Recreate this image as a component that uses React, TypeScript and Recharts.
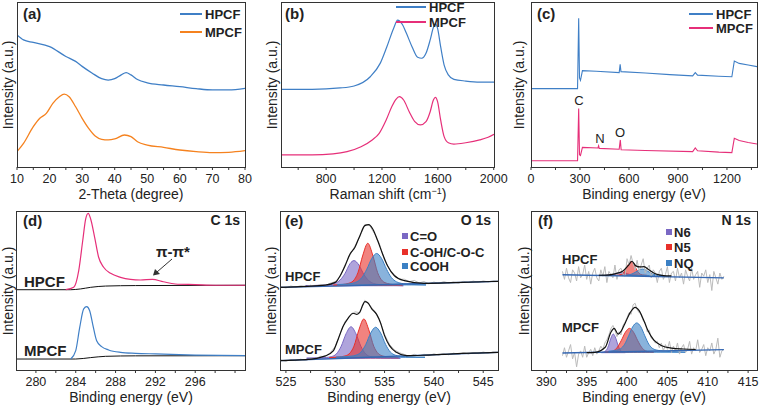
import React from "react";
import { ComposedChart, Line, Area, XAxis, YAxis } from "recharts";

const FONT = "'Liberation Sans', Arial, Helvetica, sans-serif";
const INK = "#222222";
const AXIS = "#333333";
const BLUE = "#3f7fc6";
const ORANGE = "#f5821f";
const PINK = "#e62f79";
const GRAY = "#bbbbbb";
const BASE_BLUE = "#3567b2";
const PURPLE = "#7a68c4";
const RED = "#e8302a";
const CYAN = "#3b80c4";

// (a) XRD
const aHX = [10, 12, 15, 20, 25, 28, 30, 33, 36, 38, 40, 42, 43.5, 45, 47, 50, 55, 60, 65, 70, 75, 80];
const aHPCF = [80, 77, 75.5, 73, 67, 64, 61, 57, 53.5, 52.7, 53.5, 55.8, 57.2, 55.8, 53, 51, 49.7, 48.7, 47.5, 46.7, 46.7, 47.7];
const aMX = [10, 12, 15, 17, 19, 21, 23, 24.5, 26, 28, 30, 32, 34, 36, 38, 40, 43, 45, 47, 50, 55, 60, 65, 70, 75, 80];
const aMPCF = [9.3, 14.3, 24.4, 29.5, 32.5, 38.6, 42.6, 44.2, 42.6, 36.5, 29.5, 23.4, 18.8, 16.8, 16.4, 17, 19.4, 18.4, 15.3, 13.3, 11.9, 10.3, 9.3, 8.7, 8.9, 9.9];
const aTicks = [10, 15, 20, 25, 30, 35, 40, 45, 50, 55, 60, 65, 70, 75, 80];
const aMajors = [10, 20, 30, 40, 50, 60, 70, 80];

// (b) Raman
const bHX = [477, 700, 900, 1000, 1116, 1187, 1235, 1283, 1312, 1345, 1375, 1415, 1455, 1485, 1515, 1545, 1568, 1583, 1598, 1620, 1645, 1675, 1715, 1800, 1900, 2002];
const bHPCF = [47.1, 47.1, 47.9, 49.1, 54.7, 62.8, 72.9, 84, 89, 86.5, 81, 72.9, 66.5, 65.9, 68.9, 77, 84.5, 86.7, 84, 72.9, 61.8, 55.8, 53.1, 52.1, 51.5, 51.5];
const bMX = [477, 700, 850, 950, 1050, 1130, 1180, 1230, 1270, 1300, 1325, 1355, 1395, 1435, 1475, 1515, 1545, 1568, 1583, 1598, 1620, 1645, 1675, 1715, 1800, 1900, 1960, 2002];
const bMPCF = [7.3, 7.3, 7.9, 9.3, 12.3, 16.4, 20.4, 28.5, 36.5, 41, 42.6, 40.6, 33.5, 27.5, 25.5, 27.5, 33.5, 40.6, 42.2, 39.6, 28.5, 18.4, 14.7, 13.9, 14.7, 16.4, 18, 19.8];
const bTicks = [600, 800, 1000, 1200, 1400, 1600, 1800, 2000];
const bMajors = [800, 1200, 1600, 2000];

// (c) XPS survey
const cHX = [0, 285, 292, 297, 303, 315, 400, 540, 546, 551, 700, 850, 990, 1006, 1020, 1150, 1230, 1245, 1275, 1330, 1384];
const cHPCF = [47.5, 47.5, 90.1, 54, 52.5, 58.4, 58.0, 57.2, 62.2, 57.8, 57.0, 56, 55.2, 57.2, 55.7, 55.0, 54.7, 64.2, 62.8, 61.8, 60.8];
const cMX = [0, 285, 292, 297, 303, 315, 410, 414, 418, 540, 547, 552, 700, 990, 1006, 1020, 1150, 1230, 1245, 1275, 1330, 1384];
const cMPCF = [3.8, 3.8, 35.5, 7.5, 7.0, 11.9, 11.5, 12.8, 11.3, 10.8, 16.4, 10.5, 10.0, 9.3, 11.5, 9.8, 9.0, 8.7, 17.4, 16.0, 14.8, 13.9];
const cTicks = [0, 150, 300, 450, 600, 750, 900, 1050, 1200, 1350];
const cMajors = [0, 300, 600, 900, 1200];

// (d) C 1s
const dHX = [283, 283.8, 284.3, 284.7, 285.0, 285.25, 285.5, 285.9, 286.3, 286.8, 287.5, 288.5, 289.5, 290.5, 291.7, 292.8, 294, 296, 298, 301];
const dHPCF = [50.5, 52, 62.5, 81.3, 95, 98.5, 95, 83.4, 70.9, 64.6, 60.8, 58.3, 57, 56.6, 57.0, 55.5, 54.1, 53.7, 53.3, 53.3];
const dHBgX = [278, 283.5, 284.5, 285.5, 287, 290, 301];
const dHBg = [50.5, 50.5, 51, 52, 52.8, 53.1, 53.3];
const dMX = [283.5, 284.0, 284.4, 284.8, 285.1, 285.4, 285.7, 286.1, 286.6, 287.3, 288.5, 290, 292, 296, 301];
const dMPCF = [6.9, 12.2, 26.8, 38.4, 39.8, 37.3, 28.9, 18.4, 14.7, 12.6, 11.1, 10.5, 10.1, 9.4, 9];
const dMBgX = [278, 284, 285.5, 287, 290, 301];
const dMBg = [6.9, 6.9, 7.8, 8.6, 8.9, 9.0];
const dTicks = [280, 282, 284, 286, 288, 290, 292, 294, 296, 298, 300];
const dMajors = [280, 284, 288, 292, 296];

// (e) O 1s
const eRawStart = 524.5;
const eRawStep = 0.5;
const eHRaw = [52.3, 51.6, 52.8, 52.1, 53.0, 52.2, 53.3, 52.6, 53.8, 53.1, 54.6, 55.6, 58.8, 66.3, 72.4, 77.9, 84.0, 91.5, 90.8, 85.6, 78.9, 69.2, 63.4, 59.9, 57.0, 57.1, 55.5, 56.3, 54.8, 55.6, 54.2, 55.3, 54.5, 55.6, 54.7, 55.4, 54.6, 55.7, 55.0, 55.9, 55.1, 56.0, 55.4, 56.1, 55.6];
const eMRaw = [6.3, 5.4, 6.6, 5.9, 6.8, 6.0, 7.2, 7.0, 8.6, 8.4, 10.9, 14.8, 23.0, 30.5, 34.0, 36.6, 36.0, 43.8, 40.8, 36.8, 31.6, 22.4, 16.1, 12.6, 10.9, 9.8, 8.7, 9.9, 8.8, 9.9, 9.0, 10.2, 9.3, 10.4, 9.6, 10.6, 9.8, 10.9, 10.1, 11.0, 10.3, 11.3, 10.6, 11.4, 10.9];
const eBgX = [524.4, 531, 537, 546.5];
const eHBg = [52.0, 52.9, 54.1, 55.8];
const eMBg = [5.9, 7.4, 8.9, 11.1];
const eHCOX = [527, 528, 529, 529.5, 530, 530.5, 531, 531.5, 531.9, 532.4, 532.9, 533.4, 533.9, 534.4, 534.9, 535.9, 536.9];
const eHCO = [53.0, 53.2, 53.5, 53.8, 54.6, 56.6, 60.8, 66.9, 68.8, 66.0, 60.1, 56.2, 54.4, 53.8, 53.5, 53.2, 53.0];
const eHCOHX = [529.8, 530.3, 530.8, 531.3, 531.8, 532.3, 532.8, 533.3, 533.8, 534.3, 534.8, 535.3, 535.8, 536.3, 536.8];
const eHCOH = [53.4, 53.6, 53.8, 54.4, 55.9, 61.2, 72.3, 79.7, 72.3, 61.2, 55.9, 54.4, 53.8, 53.6, 53.4];
const eHCOOHX = [530.2, 530.7, 531.2, 531.7, 532.2, 532.7, 533.2, 533.7, 534.2, 534.7, 535.2, 535.7, 536.2, 536.7, 537.2, 537.7, 538.2, 539.2];
const eHCOOH = [53.7, 53.9, 54.1, 54.5, 55.5, 58.1, 63.4, 70.1, 73.3, 70.1, 63.4, 58.1, 55.5, 54.5, 54.1, 53.9, 53.7, 53.5];
const eHFitX = [524.4, 527, 529, 530, 530.5, 531, 531.5, 532, 532.5, 533, 533.4, 533.8, 534.3, 534.8, 535.3, 536, 537, 539, 542, 546.5];
const eHFit = [52.0, 52.6, 53.4, 55.1, 59.3, 65.6, 73, 77.2, 84.5, 90.8, 91.4, 88.7, 81.4, 73, 65.6, 59.3, 56.2, 54.5, 54.9, 55.8];
const eMCOX = [527.1, 528.1, 528.6, 529.1, 529.6, 530.1, 530.6, 531.1, 531.6, 532.1, 532.6, 533.1, 533.6, 534.1, 534.6, 535.6, 536.6];
const eMCO = [7.4, 7.6, 7.7, 7.9, 8.4, 10.0, 14.9, 22.8, 27.2, 22.8, 14.9, 10.0, 8.4, 7.9, 7.7, 7.5, 7.4];
const eMCOHX = [529.4, 529.9, 530.4, 530.9, 531.4, 531.9, 532.4, 532.9, 533.4, 533.9, 534.4, 534.9, 535.4, 535.9, 536.4];
const eMCOH = [7.8, 8.0, 8.2, 8.7, 10.1, 15.0, 25.3, 32.1, 25.3, 15.0, 10.1, 8.7, 8.2, 8.0, 7.8];
const eMCOOHX = [530.1, 531.1, 531.6, 532.1, 532.6, 533.1, 533.6, 534.1, 534.6, 535.1, 535.6, 536.1, 536.6, 537.1, 538.1, 539.1];
const eMCOOH = [8.1, 8.4, 8.7, 9.3, 11.2, 16.1, 23.3, 26.9, 23.3, 16.1, 11.2, 9.3, 8.7, 8.4, 8.1, 8.0];
const eMFitX = [524.4, 527, 529, 529.8, 530.3, 530.8, 531.3, 531.8, 532.2, 532.5, 532.8, 533.0, 533.3, 533.7, 534.2, 534.6, 535.0, 535.5, 536.2, 537.2, 539.3, 542, 546.5];
const eMFit = [5.9, 6.5, 8.9, 12.0, 19.4, 27.5, 32.5, 35.7, 35.0, 36.5, 41.0, 43.0, 42.3, 38.5, 35.0, 29.5, 21.6, 15.3, 11.1, 9.0, 9.4, 10.2, 11.1];
const eTicks = [525, 527.5, 530, 532.5, 535, 537.5, 540, 542.5, 545];
const eMajors = [525, 530, 535, 540, 545];

// (f) N 1s
const fRawStart = 392;
const fRawStep = 0.25;
const fHRaw = [62, 57, 64, 58, 55, 63, 61, 56, 65, 58, 60, 66, 57, 62, 54, 61, 64, 58, 56, 63, 59, 65, 55, 62, 60, 58, 66, 57, 63, 64, 60, 59, 70, 66, 72, 67, 63, 69, 62, 66, 70, 61, 64, 66, 58, 63, 61, 55, 62, 64, 57, 60, 65, 55, 61, 62, 56, 64, 58, 61, 54, 63, 59, 56, 64, 57, 60, 62, 52, 61, 59, 63, 55, 60, 50, 62, 58, 54, 61, 57, 59];
const fMRaw = [9, 14, 8, 12, 16, 7, 11, 2, 10, 12, 8, 15, 8, 11, 13, 9, 14, 10, 12, 15, 13, 17, 19, 22, 26, 28, 25, 21, 24, 22, 28, 30, 33, 36, 35, 41, 42, 38, 36, 35, 31, 30, 24, 25, 20, 19, 17, 18, 14, 17, 12, 16, 13, 18, 11, 15, 12, 17, 10, 14, 16, 11, 13, 18, 10, 14, 12, 19, 11, 13, 16, 9, 14, 12, 17, 10, 13, 20, 8, 12, 13];
const fBgX = [392, 412];
const fHBg = [59.9, 57.9];
const fMBg = [10.7, 12.8];
const fHN6X = [397.3, 397.8, 398.3, 398.8, 399.3, 399.8, 400.3, 400.8, 401.3];
const fHN6 = [59.6, 59.7, 60.1, 61.0, 61.4, 61.0, 60.1, 59.7, 59.6];
const fHN5X = [398.5, 398.9, 399.3, 399.7, 400.1, 400.5, 400.9, 401.3, 401.7, 402.1, 402.5];
const fHN5 = [59.5, 59.7, 60.1, 62.1, 65.9, 68.2, 65.9, 62.1, 60.1, 59.7, 59.5];
const fHNQX = [399.3, 399.9, 400.5, 401.0, 401.5, 401.9, 402.3, 402.8, 403.3, 403.9, 404.5];
const fHNQ = [59.5, 59.7, 60.2, 61.4, 62.9, 63.5, 62.9, 61.4, 60.2, 59.7, 59.5];
const fHFitX = [396.5, 397.5, 398.5, 399.5, 400.2, 400.6, 401.1, 401.6, 402.1, 402.7, 403.5, 404.5, 405.5];
const fHFit = [59.6, 59.7, 60.5, 62.3, 66.0, 68.4, 65.5, 64.8, 65.0, 63.0, 60.5, 59.4, 59.2];
const fMN6X = [396.8, 397.1, 397.4, 397.7, 398.0, 398.3, 398.6, 398.9, 399.2, 399.5, 399.8];
const fMN6 = [11.0, 11.3, 12.2, 15.2, 20.0, 22.6, 20.0, 15.2, 12.2, 11.3, 11.0];
const fMN5X = [397.3, 397.8, 398.3, 398.8, 399.3, 399.8, 400.3, 400.8, 401.3, 401.8, 402.3, 402.8, 403.3];
const fMN5 = [11.2, 11.4, 12.0, 14.3, 18.7, 23.8, 26.2, 23.8, 18.7, 14.3, 12.0, 11.4, 11.2];
const fMNQX = [397.7, 398.2, 398.7, 399.2, 399.7, 400.2, 400.7, 401.2, 401.7, 402.2, 402.7, 403.2, 403.7, 404.2, 405.2, 406.2, 407.2];
const fMNQ = [11.8, 12.1, 12.5, 13.4, 16.2, 21.5, 27.2, 29.6, 27.2, 21.5, 16.2, 13.4, 12.5, 12.1, 11.6, 11.4, 11.2];
const fMFitX = [395, 396, 397.3, 398.0, 398.4, 398.9, 399.3, 399.8, 400.4, 401.0, 401.5, 402.0, 402.6, 403.3, 404.3, 405.5, 407, 408.5];
const fMFit = [10.9, 11.1, 14.3, 23.7, 26.2, 22.6, 24.7, 29.9, 36.2, 39.4, 37.3, 32.1, 24.7, 18.9, 15.3, 13.8, 13.2, 12.9];
const fTicks = [390, 392.5, 395, 397.5, 400, 402.5, 405, 407.5, 410, 412.5, 415];
const fMajors = [390, 395, 400, 405, 410, 415];

type Pt = { x: number; y: number };
const zip = (xs: number[], ys: number[]): Pt[] => xs.map((x, i) => ({ x, y: ys[i] }));
const sampled = (x0: number, dx: number, ys: number[]): Pt[] => ys.map((y, i) => ({ x: x0 + i * dx, y }));
const band = (xs: number[], tops: number[], base: number) => xs.map((x, i) => ({ x, band: [base, tops[i]] }));

// tick mark + label drawn together so the mark hangs below the frame
const tickRenderer = (majors: number[], axisY: number) => (props: any) => {
  const { x, payload } = props;
  const major = majors.includes(payload.value);
  return (
    <g>
      <line x1={x} x2={x} y1={axisY} y2={axisY + 3} stroke={AXIS} strokeWidth={1} />
      {major && (
        <text x={x} y={axisY + 12} dy="0.35em" textAnchor="middle" fontSize={12.5} fontFamily={FONT} fill={INK}>
          {payload.value}
        </text>
      )}
    </g>
  );
};

function curve(key: string, data: Pt[], color: string, width = 1.2, type: any = "monotone") {
  return (
    <Line key={key} data={data} dataKey="y" type={type} stroke={color} strokeWidth={width}
      dot={false} activeDot={false} isAnimationActive={false} />
  );
}

function peak(key: string, data: any[], color: string) {
  return (
    <Area key={key} data={data} dataKey="band" type="monotone" stroke={color} strokeWidth={1}
      fill={color} fillOpacity={0.6} dot={false} activeDot={false} isAnimationActive={false} />
  );
}

const SIDE = 20;

function Panel({ frame, domain, ticks, majors, children }: any) {
  const [l, t, r, b] = frame;
  const w = r - l;
  const h = b - t;
  return (
    <div style={{ position: "absolute", left: l - SIDE, top: t - 1 }}>
      <ComposedChart width={w + 2 * SIDE} height={h + 41} margin={{ top: 1, right: SIDE, left: SIDE, bottom: 0 }}>
        <XAxis type="number" dataKey="x" domain={domain} ticks={ticks} interval={0} allowDataOverflow
          height={40} axisLine={false} tickLine={false} tick={tickRenderer(majors, 1 + h)} />
        <YAxis type="number" domain={[0, 100]} allowDataOverflow width={0} tick={false} tickLine={false}
          axisLine={false} />
        {children}
      </ComposedChart>
      <div style={{
        position: "absolute", left: SIDE, top: 1, width: w + 1, height: h + 1,
        border: `1px solid ${AXIS}`, boxSizing: "border-box", pointerEvents: "none",
      }} />
    </div>
  );
}

function Txt({ x, y, children, size = 13, bold = false, anchor = "middle", rotate = false }: any) {
  const tx = anchor === "start" ? "0" : anchor === "end" ? "-100%" : "-50%";
  return (
    <div style={{
      position: "absolute", left: x, top: y,
      transform: `translate(${tx}, -50%)${rotate ? " rotate(-90deg)" : ""}`,
      fontSize: size, fontWeight: bold ? 700 : 400, fontFamily: FONT, color: INK,
      whiteSpace: "nowrap", lineHeight: 1,
    }}>
      {children}
    </div>
  );
}

function LegLine({ x1, x2, y, color, label }: any) {
  return (
    <>
      <div style={{ position: "absolute", left: x1, top: y - 0.75, width: x2 - x1, height: 1.5, background: color }} />
      <Txt x={x2 + 3} y={y} anchor="start" bold>{label}</Txt>
    </>
  );
}

function LegBox({ x, y, color, label }: any) {
  return (
    <>
      <div style={{ position: "absolute", left: x - 3, top: y - 3, width: 6, height: 6, background: color }} />
      <Txt x={x + 5} y={y} anchor="start" bold>{label}</Txt>
    </>
  );
}

export default function App() {
  return (
    <div style={{ position: "absolute", left: 0, top: 0, width: 759, height: 408, background: "#fff", overflow: "hidden" }}>
      <Panel frame={[17, 2, 245, 167]} domain={[10, 80]} ticks={aTicks} majors={aMajors}>
        {curve("h", zip(aHX, aHPCF), BLUE, 1.3)}
        {curve("m", zip(aMX, aMPCF), ORANGE, 1.3)}
      </Panel>
      <Panel frame={[281, 2, 494, 167]} domain={[477, 2002]} ticks={bTicks} majors={bMajors}>
        {curve("h", zip(bHX, bHPCF), BLUE)}
        {curve("m", zip(bMX, bMPCF), PINK)}
      </Panel>
      <Panel frame={[531, 2, 757, 167]} domain={[0, 1384]} ticks={cTicks} majors={cMajors}>
        {curve("h", zip(cHX, cHPCF), BLUE, 1.1, "linear")}
        {curve("m", zip(cMX, cMPCF), PINK, 1.1, "linear")}
      </Panel>
      <Panel frame={[16, 211, 245, 370]} domain={[278, 301]} ticks={dTicks} majors={dMajors}>
        {curve("hb", zip(dHBgX, dHBg), "#111", 1)}
        {curve("mb", zip(dMBgX, dMBg), "#111", 1)}
        {curve("h", zip(dHX, dHPCF), PINK)}
        {curve("m", zip(dMX, dMPCF), BLUE)}
      </Panel>
      <Panel frame={[280, 211, 498, 370]} domain={[524.4, 546.5]} ticks={eTicks} majors={eMajors}>
        {curve("hr", sampled(eRawStart, eRawStep, eHRaw), GRAY, 1, "linear")}
        {curve("mr", sampled(eRawStart, eRawStep, eMRaw), GRAY, 1, "linear")}
        {peak("h1", band(eHCOX, eHCO, 53.0), PURPLE)}
        {peak("h2", band(eHCOHX, eHCOH, 53.3), RED)}
        {peak("h3", band(eHCOOHX, eHCOOH, 53.5), CYAN)}
        {peak("m1", band(eMCOX, eMCO, 7.4), PURPLE)}
        {peak("m2", band(eMCOHX, eMCOH, 7.7), RED)}
        {peak("m3", band(eMCOOHX, eMCOOH, 8.0), CYAN)}
        {curve("hb", zip(eBgX, eHBg), BASE_BLUE, 1.3, "linear")}
        {curve("mb", zip(eBgX, eMBg), BASE_BLUE, 1.3, "linear")}
        {curve("hf", zip(eHFitX, eHFit), "#111", 1.2)}
        {curve("mf", zip(eMFitX, eMFit), "#111", 1.2)}
      </Panel>
      <Panel frame={[531, 211, 757, 370]} domain={[388.1, 416.1]} ticks={fTicks} majors={fMajors}>
        {curve("hr", sampled(fRawStart, fRawStep, fHRaw), GRAY, 1, "linear")}
        {curve("mr", sampled(fRawStart, fRawStep, fMRaw), GRAY, 1, "linear")}
        {peak("h1", band(fHN6X, fHN6, 59.6), PURPLE)}
        {peak("h2", band(fHN5X, fHN5, 59.5), RED)}
        {peak("h3", band(fHNQX, fHNQ, 59.4), CYAN)}
        {peak("m1", band(fMN6X, fMN6, 10.9), PURPLE)}
        {peak("m2", band(fMN5X, fMN5, 11.1), RED)}
        {peak("m3", band(fMNQX, fMNQ, 11.2), CYAN)}
        {curve("hb", zip(fBgX, fHBg), BASE_BLUE, 1.3, "linear")}
        {curve("mb", zip(fBgX, fMBg), BASE_BLUE, 1.3, "linear")}
        {curve("hf", zip(fHFitX, fHFit), "#111", 1.2)}
        {curve("mf", zip(fMFitX, fMFit), "#111", 1.2)}
      </Panel>

      {/* y-axis titles */}
      <Txt x={8} y={85} size={14} rotate>Intensity (a.u.)</Txt>
      <Txt x={272} y={85} size={14} rotate>Intensity (a.u.)</Txt>
      <Txt x={519} y={85} size={14} rotate>Intensity (a.u.)</Txt>
      <Txt x={8} y={291} size={14} rotate>Intensity (a.u.)</Txt>
      <Txt x={271} y={291} size={14} rotate>Intensity (a.u.)</Txt>
      <Txt x={524} y={291} size={14} rotate>Intensity (a.u.)</Txt>

      {/* x-axis titles */}
      <Txt x={131} y={194} size={14}>2-Theta (degree)</Txt>
      <Txt x={388} y={194} size={14}>Raman shift (cm<sup style={{ fontSize: 9 }}>−1</sup>)</Txt>
      <Txt x={644} y={194} size={14}>Binding energy (eV)</Txt>
      <Txt x={131} y={397} size={14}>Binding energy (eV)</Txt>
      <Txt x={389} y={397} size={14}>Binding energy (eV)</Txt>
      <Txt x={644} y={397} size={14}>Binding energy (eV)</Txt>

      {/* panel letters */}
      <Txt x={23} y={13} size={15} bold anchor="start">(a)</Txt>
      <Txt x={285} y={13} size={15} bold anchor="start">(b)</Txt>
      <Txt x={537} y={13} size={15} bold anchor="start">(c)</Txt>
      <Txt x={23} y={220} size={15} bold anchor="start">(d)</Txt>
      <Txt x={285} y={220} size={15} bold anchor="start">(e)</Txt>
      <Txt x={538} y={220} size={15} bold anchor="start">(f)</Txt>

      {/* legends a-c */}
      <LegLine x1={180} x2={202} y={14} color={BLUE} label="HPCF" />
      <LegLine x1={180} x2={202} y={32} color={ORANGE} label="MPCF" />
      <LegLine x1={396} x2={426} y={7} color={BLUE} label="HPCF" />
      <LegLine x1={396} x2={426} y={22} color={PINK} label="MPCF" />
      <LegLine x1={689} x2={713} y={14} color={BLUE} label="HPCF" />
      <LegLine x1={689} x2={713} y={28} color={PINK} label="MPCF" />

      {/* (c) element labels */}
      <Txt x={579} y={100} size={13}>C</Txt>
      <Txt x={600} y={138} size={13}>N</Txt>
      <Txt x={620} y={132} size={13}>O</Txt>

      {/* (d) */}
      <Txt x={240} y={220} size={14} bold anchor="end">C 1s</Txt>
      <Txt x={24} y={281} size={15} bold anchor="start">HPCF</Txt>
      <Txt x={24} y={350} size={15} bold anchor="start">MPCF</Txt>
      <Txt x={173} y={251} size={15} bold>π-π*</Txt>
      <svg style={{ position: "absolute", left: 0, top: 0 }} width={759} height={408}>
        <line x1={172} y1={259} x2={157} y2={272} stroke="#333" strokeWidth={1} />
        <polygon points="153,275.5 155,269 160,274" fill="#333" />
      </svg>

      {/* (e) */}
      <Txt x={491} y={220} size={14} bold anchor="end">O 1s</Txt>
      <Txt x={285} y={276} size={13} bold anchor="start">HPCF</Txt>
      <Txt x={285} y={349} size={13} bold anchor="start">MPCF</Txt>
      <LegBox x={405} y={236} color={PURPLE} label="C=O" />
      <LegBox x={405} y={252} color={RED} label="C-OH/C-O-C" />
      <LegBox x={405} y={266} color={CYAN} label="COOH" />

      {/* (f) */}
      <Txt x={751} y={220} size={14} bold anchor="end">N 1s</Txt>
      <Txt x={562} y={259} size={13} bold anchor="start">HPCF</Txt>
      <Txt x={562} y={327} size={13} bold anchor="start">MPCF</Txt>
      <LegBox x={669} y={232} color={PURPLE} label="N6" />
      <LegBox x={669} y={247} color={RED} label="N5" />
      <LegBox x={669} y={263} color={CYAN} label="NQ" />
    </div>
  );
}
